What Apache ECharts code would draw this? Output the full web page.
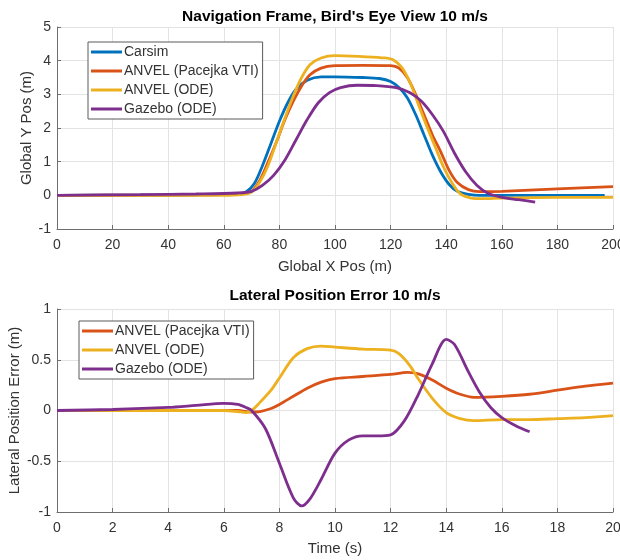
<!DOCTYPE html>
<html>
<head>
<meta charset="utf-8">
<title>Navigation Frame / Lateral Position Error</title>
<script src="https://cdn.jsdelivr.net/npm/echarts@6/dist/echarts.min.js"></script>
<style>
  html, body { margin: 0; padding: 0; background: #ffffff; }
  #chart { width: 620px; height: 560px; }
</style>
</head>
<body>
<div id="chart"></div>
<script>
// Bird's eye view: global X position (m) vs global Y position (m)
const carsimPath = [[0,0],[40,0.01],[60,0.02],[65,0.04],[68,0.1],[71,0.35],[74,0.9],[77,1.55],[80,2.2],[83,2.75],[86,3.15],[90,3.42],[95,3.52],[100,3.52],[110,3.5],[116,3.47],[120,3.38],[123,3.2],[126,2.9],[129,2.4],[132,1.8],[135,1.2],[138,0.7],[141,0.33],[144,0.12],[148,0.03],[152,0],[170,0],[197,0]];
const anvelPacejkaPath = [[0,0],[40,0.01],[60,0.02],[66,0.04],[70,0.12],[73,0.45],[76,1.0],[79,1.6],[82,2.25],[85,2.8],[88,3.25],[91,3.58],[95,3.78],[100,3.85],[110,3.86],[120,3.85],[123,3.78],[126,3.5],[129,3.0],[132,2.4],[135,1.8],[138,1.3],[141,0.75],[144,0.38],[148,0.17],[152,0.11],[160,0.12],[180,0.19],[200,0.26]];
const anvelOdePath = [[0,-0.01],[40,0],[60,0],[66,0.02],[70,0.1],[73,0.4],[76,0.9],[79,1.6],[82,2.3],[85,2.95],[88,3.5],[91,3.88],[95,4.08],[100,4.15],[110,4.12],[118,4.08],[121,4.02],[124,3.8],[127,3.35],[130,2.7],[133,2.05],[136,1.45],[139,0.85],[142,0.38],[145,0.05],[149,-0.08],[153,-0.1],[160,-0.08],[180,-0.06],[200,-0.06]];
const gazeboPath = [[0,0],[30,0.02],[50,0.04],[65,0.07],[70,0.12],[74,0.3],[78,0.6],[82,1.05],[86,1.65],[90,2.25],[94,2.75],[98,3.05],[102,3.2],[108,3.27],[115,3.26],[122,3.2],[127,3.05],[131,2.8],[135,2.4],[139,1.9],[143,1.25],[147,0.7],[151,0.3],[155,0.06],[160,-0.06],[166,-0.13],[172,-0.2]];

// Lateral position error (m) over time (s)
const anvelPacejkaError = [[0,0],[2,0],[4,0],[6,0],[6.5,0],[7,-0.015],[7.3,-0.01],[7.7,0.02],[8,0.06],[8.5,0.14],[9,0.22],[9.5,0.28],[10,0.315],[11,0.335],[12,0.355],[12.6,0.375],[13,0.36],[13.5,0.3],[14,0.22],[14.5,0.16],[15,0.13],[16,0.14],[17,0.16],[18,0.2],[19,0.24],[20,0.27]];
const anvelOdeError = [[0,0],[3,0],[6,0],[6.5,-0.01],[6.8,-0.02],[7,0.0],[7.3,0.08],[7.7,0.2],[8,0.32],[8.5,0.52],[9,0.61],[9.5,0.635],[10,0.625],[11,0.605],[12,0.595],[12.3,0.56],[12.7,0.44],[13,0.31],[13.5,0.12],[14,-0.02],[14.5,-0.08],[15,-0.1],[16,-0.09],[17,-0.09],[18,-0.08],[19,-0.07],[20,-0.05]];
const gazeboError = [[0,0],[2,0.01],[4,0.03],[5,0.05],[6,0.07],[6.5,0.06],[6.8,0.03],[7,0.0],[7.5,-0.18],[8,-0.52],[8.5,-0.86],[8.8,-0.94],[9.1,-0.87],[9.5,-0.68],[10,-0.42],[10.5,-0.29],[11,-0.25],[11.5,-0.25],[12,-0.24],[12.5,-0.1],[13,0.16],[13.5,0.46],[14,0.7],[14.3,0.65],[14.8,0.38],[15.2,0.18],[15.6,0.03],[16,-0.07],[16.5,-0.15],[17,-0.21]];

const titles = ["Navigation Frame, Bird's Eye View 10 m/s", 'Lateral Position Error 10 m/s'];
const axisNames = { x1: 'Global X Pos (m)', y1: 'Global Y Pos (m)', x2: 'Time (s)', y2: 'Lateral Position Error (m)' };
const names = { carsim: 'Carsim', pacejka: 'ANVEL (Pacejka VTI)', ode: 'ANVEL (ODE)', gazebo: 'Gazebo (ODE)' };

const colors = { carsim: '#0072BD', pacejka: '#D95319', ode: '#EDB120', gazebo: '#7E2F8E' };
const FONT = 'Liberation Sans, Arial, Helvetica, sans-serif';
const TEXT = '#333333';

function valueAxis(gridIndex, min, max, interval, name, gap, isX) {
  return {
    type: 'value', gridIndex, min, max, interval,
    name, nameLocation: 'middle', nameGap: gap, nameMoveOverlap: false,
    nameTextStyle: { fontFamily: FONT, fontSize: 15, color: TEXT },
    axisLine: { show: true, onZero: false, lineStyle: { color: '#6e6e6e', width: 1 } },
    axisTick: { show: true, inside: true, length: 4, lineStyle: { color: '#6e6e6e' } },
    axisLabel: { fontFamily: FONT, fontSize: 14, color: TEXT, margin: isX ? 9 : 6 },
    splitLine: { show: true, lineStyle: { color: '#e3e3e3', width: 1 } }
  };
}

function line(name, data, color, xi) {
  return {
    name, type: 'line', data, xAxisIndex: xi, yAxisIndex: xi,
    smooth: 0.3, showSymbol: false,
    lineStyle: { color, width: 2.8 }, itemStyle: { color },
    emphasis: { disabled: true }
  };
}

function legendBox(top, left, data) {
  return {
    orient: 'vertical', top, left, data,
    icon: 'rect', itemWidth: 31, itemHeight: 3, itemGap: 5,
    backgroundColor: '#ffffff', borderColor: '#5a5a5a', borderWidth: 1,
    padding: [3, 4, 3, 3],
    textStyle: { fontFamily: FONT, fontSize: 14, color: TEXT, padding: [0, 0, 0, -3] }
  };
}

const chart = echarts.init(document.getElementById('chart'), null, { renderer: 'canvas' });
chart.setOption({
  animation: false,
  backgroundColor: '#ffffff',
  title: [
    { text: titles[0], left: 330, top: 4, textAlign: 'center',
      textStyle: { fontFamily: FONT, fontSize: 15.5, fontWeight: 'bold', color: '#000000' } },
    { text: titles[1], left: 330, top: 283, textAlign: 'center',
      textStyle: { fontFamily: FONT, fontSize: 15.5, fontWeight: 'bold', color: '#000000' } }
  ],
  legend: [
    legendBox(42, 88, [names.carsim, names.pacejka, names.ode, names.gazebo]),
    legendBox(321, 79, [names.pacejka, names.ode, names.gazebo])
  ],
  grid: [
    { left: 57, right: 7, top: 27, height: 202, outerBoundsMode: 'none', containLabel: false },
    { left: 57, right: 7, top: 309, height: 203, outerBoundsMode: 'none', containLabel: false }
  ],
  xAxis: [
    valueAxis(0, 0, 200, 20, axisNames.x1, 30, true),
    valueAxis(1, 0, 20, 2, axisNames.x2, 29, true)
  ],
  yAxis: [
    valueAxis(0, -1, 5, 1, axisNames.y1, 23, false),
    valueAxis(1, -1, 1, 0.5, axisNames.y2, 35, false)
  ],
  series: [
    line(names.carsim, carsimPath, colors.carsim, 0),
    line(names.pacejka, anvelPacejkaPath, colors.pacejka, 0),
    line(names.ode, anvelOdePath, colors.ode, 0),
    line(names.gazebo, gazeboPath, colors.gazebo, 0),
    line(names.pacejka, anvelPacejkaError, colors.pacejka, 1),
    line(names.ode, anvelOdeError, colors.ode, 1),
    line(names.gazebo, gazeboError, colors.gazebo, 1)
  ]
});
</script>
</body>
</html>
